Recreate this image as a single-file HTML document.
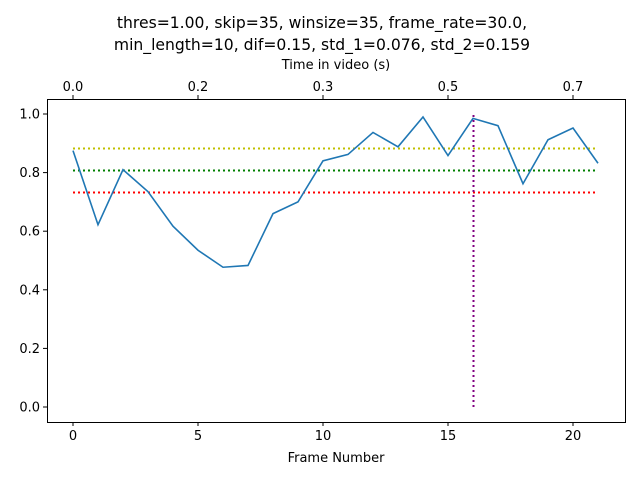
<!DOCTYPE html>
<html><head><meta charset="utf-8"><style>
body{margin:0;background:#fff}
svg text{font-family:"DejaVu Sans","Liberation Sans",sans-serif;fill:#000}
</style></head><body>
<svg id="chart" width="640" height="480"></svg>
<script>
const frames=[0,1,2,3,4,5,6,7,8,9,10,11,12,13,14,15,16,17,18,19,20,21];
const scores=[0.875,0.622,0.81,0.735,0.617,0.535,0.477,0.483,0.66,0.70,0.84,0.862,0.937,0.888,0.99,0.858,0.985,0.96,0.762,0.912,0.952,0.832];
const xTicks=[0,5,10,15,20];
const yTicks=[0.0,0.2,0.4,0.6,0.8,1.0];
const topTicks=[0.0,0.2,0.3,0.5,0.7];
const topTickFrames=[0,5,10,15,20];
const hLines=[0.885,0.81,0.735];
const hColors=["#bfbf00","#008000","#ff0000"];
const cutFrame=16;
const L=47,R=625,T=99,B=422;
const x=v=>73+(v-0)*25;
const y=v=>407-v*293;
const svg=document.getElementById('chart');
const NS='http://www.w3.org/2000/svg';
function mk(t,a,p){const e=document.createElementNS(NS,t);for(const k in a)e.setAttribute(k,a[k]);(p||svg).appendChild(e);return e;}
let e;
e=mk('text',{x:322,y:28,'font-size':15.6,'text-anchor':'middle'});e.textContent='thres=1.00, skip=35, winsize=35, frame_rate=30.0,';


e=mk('text',{x:322,y:50,'font-size':15.6,'text-anchor':'middle'});e.textContent='min_length=10, dif=0.15, std_1=0.076, std_2=0.159';


hLines.forEach((v,i)=>{const yy=Math.round(y(v))+0.5;e=mk('line',{x1:73,x2:598,y1:yy,y2:yy,stroke:hColors[i],'stroke-width':2,'stroke-dasharray':'2,3'});

});
const cx=Math.round(x(cutFrame))+0.5;
e=mk('line',{x1:cx,x2:cx,y1:y(0),y2:y(1),stroke:'#800080','stroke-width':2,'stroke-dasharray':'2,3'});


e=mk('polyline',{points:frames.map((f,i)=>x(f)+','+y(scores[i])).join(' '),fill:'none',stroke:'#1f77b4','stroke-width':1.6});


e=mk('rect',{x:L+0.5,y:T+0.5,width:R-L,height:B-T,fill:'none',stroke:'#000','stroke-width':1});


xTicks.forEach(v=>{mk('line',{x1:x(v),x2:x(v),y1:B,y2:B+4,stroke:'#000'});e=mk('text',{x:x(v),y:B+18,'font-size':13,'text-anchor':'middle'});e.textContent=v;

});
yTicks.forEach(v=>{mk('line',{x1:L-4,x2:L,y1:y(v),y2:y(v),stroke:'#000'});e=mk('text',{x:L-7,y:y(v)+4.5,'font-size':13,'text-anchor':'end'});e.textContent=v.toFixed(1);

});
topTicks.forEach((v,i)=>{const px=x(topTickFrames[i]);mk('line',{x1:px,x2:px,y1:T-4,y2:T,stroke:'#000'});e=mk('text',{x:px,y:T-8,'font-size':13,'text-anchor':'middle'});e.textContent=v.toFixed(1);

});
e=mk('text',{x:336,y:462,'font-size':13,'text-anchor':'middle'});e.textContent='Frame Number';


e=mk('text',{x:336,y:69,'font-size':13,'text-anchor':'middle'});e.textContent='Time in video (s)';


</script>
</body></html>
